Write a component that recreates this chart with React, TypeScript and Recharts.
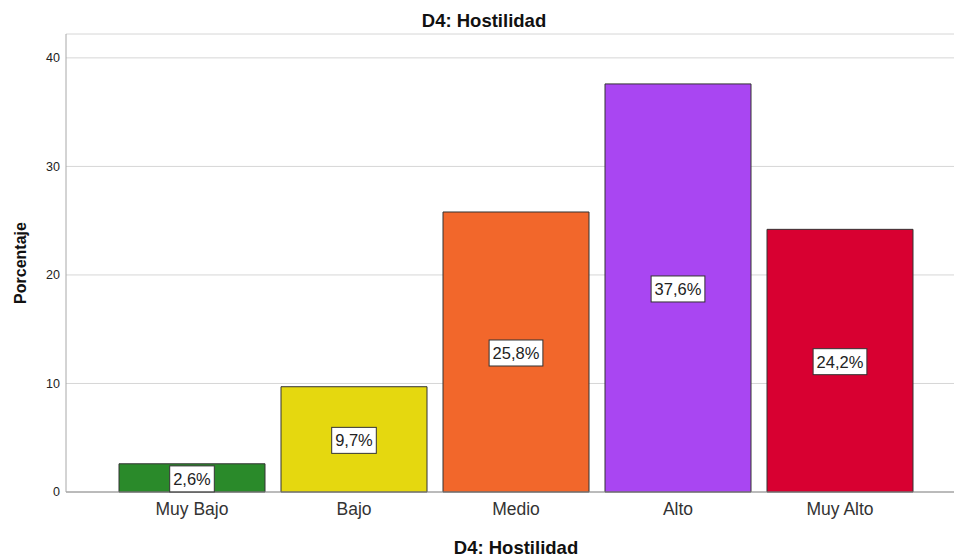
import React from 'react';
import { BarChart, Bar, XAxis, YAxis, CartesianGrid, LabelList, Label, Cell } from 'recharts';

// Frecuencias porcentuales por nivel de hostilidad
const categories = ['Muy Bajo', 'Bajo', 'Medio', 'Alto', 'Muy Alto'];
const percentages = [2.6, 9.7, 25.8, 37.6, 24.2];
const barColors = ['#2a8a2a', '#e5d80f', '#f2672b', '#a946f2', '#d80031'];
const yTicks = [0, 10, 20, 30, 40];

const FONT = '"Liberation Sans", Arial, sans-serif';

const rows = categories.map((label, i) => ({ label, value: percentages[i] }));

const fmt = (v: number) => `${v.toFixed(1).replace('.', ',')}%`;

// ancho aproximado en em de Liberation Sans
const charEm = (c: string) => (c === ',' ? 0.278 : c === '%' ? 0.889 : 0.556);

// caja blanca con borde, centrada en la barra
function BoxLabel(props: any) {
  const { x, y, width, height, value } = props;
  const text = fmt(Number(value));
  const fs = 16.5;
  const w = text.split('').reduce((s, c) => s + charEm(c) * fs, 0) + 7;
  const h = 26;
  const cx = x + width / 2;
  const cy = y + height / 2 + 1;
  return (
    <g>
      <rect x={cx - w / 2} y={cy - h / 2} width={w} height={h} fill="#fff" stroke="#333" strokeWidth={1} />
      <text x={cx} y={cy} dy="0.36em" textAnchor="middle" fontSize={fs} fill="#222" fontFamily={FONT}>
        {text}
      </text>
    </g>
  );
}

export default function App() {
  return (
    <div style={{ position: 'absolute', left: 0, top: 0, width: 954, height: 558, background: '#fff', fontFamily: FONT }}>
      <div style={{
        position: 'absolute', left: 0, top: 11, width: 968, textAlign: 'center',
        fontSize: 18.5, fontWeight: 700, lineHeight: '20px', color: '#111',
      }}>
        D4: Hostilidad
      </div>
      <BarChart
        width={954}
        height={558}
        data={rows}
        margin={{ top: 34, right: 0, left: 0, bottom: 0 }}
        barCategoryGap={8}
        style={{ fontFamily: FONT }}
      >
        <CartesianGrid stroke="#d6d6d6" vertical={false} />
        <XAxis
          dataKey="label"
          height={66}
          padding={{ left: 45, right: 33 }}
          tickLine={false}
          tickSize={6}
          tickMargin={5}
          axisLine={{ stroke: '#8a8a8a' }}
          tick={{ fontSize: 17.5, fill: '#333' }}
          interval={0}
        >
          <Label value="D4: Hostilidad" position="insideBottom" offset={4} dx={6} fontSize={18.5} fontWeight={700} fill="#111" />
        </XAxis>
        <YAxis
          width={66}
          domain={[0, 42.2]}
          ticks={yTicks}
          tickLine={false}
          tickSize={6}
          tickMargin={0}
          axisLine={{ stroke: '#a8a8a8' }}
          tick={{ fontSize: 12.5, fill: '#222' }}
        >
          <Label value="Porcentaje" angle={-90} position="insideLeft" offset={20} textAnchor="middle" fontSize={16} fontWeight={700} fill="#111" />
        </YAxis>
        <Bar dataKey="value" stroke="#333" strokeWidth={1} isAnimationActive={false}>
          {rows.map((_, i) => (
            <Cell key={i} fill={barColors[i]} />
          ))}
          <LabelList dataKey="value" content={<BoxLabel />} />
        </Bar>
      </BarChart>
    </div>
  );
}
